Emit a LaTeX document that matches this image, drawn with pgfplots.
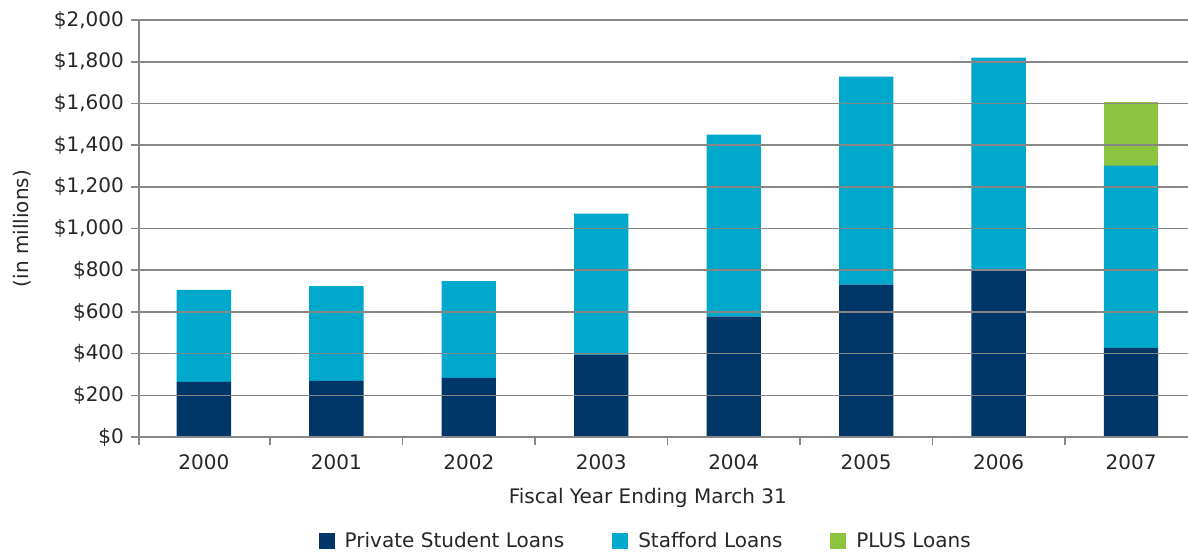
\documentclass[border=0pt]{standalone}
\usepackage{fontspec}
\setmainfont{DejaVu Sans}
\usepackage{pgfplots}
\pgfplotsset{compat=1.18}
\definecolor{navy}{HTML}{003768}
\definecolor{cyanb}{HTML}{00A8CC}
\definecolor{greenb}{HTML}{8CC43F}
\definecolor{gridgray}{HTML}{878787}
\begin{document}
\begin{tikzpicture}
\begin{axis}[
  name=ax,
  scale only axis, width=524.5pt, height=208.5pt,
  xmin=-0.49, xmax=7.43, ymin=0, ymax=2000,
  ybar stacked, bar width=0.41,
  axis on top,
  axis x line*=bottom, axis y line*=left,
  x axis line style={-, draw=gridgray, line width=0.8pt},
  y axis line style={-, draw=gridgray, line width=0.8pt},
  ytick={0,200,...,2000},
  yticklabels={\$0,\$200,\$400,\$600,\$800,{\$1,000},{\$1,200},{\$1,400},{\$1,600},{\$1,800},{\$2,000}},
  ymajorgrids, grid style={draw=gridgray, line width=0.8pt},
  ytick style={draw=gridgray, line width=0.8pt},
  tick align=outside, major tick length=4pt,
  xtick={0,...,7},
  xticklabels={2000,2001,2002,2003,2004,2005,2006,2007},
  xtick style={draw=none},
  xticklabel style={anchor=center, yshift=-8.5pt},
  extra x ticks={-0.49,0.5,1.5,2.5,3.5,4.5,5.5,6.5},
  extra x tick labels={},
  extra x tick style={xtick style={draw=gridgray, line width=0.8pt}, major tick length=4pt, grid=none},
  /pgf/number format/assume math mode=true,
  tick label style={font=\fontsize{10pt}{12pt}\selectfont, text=black!85},
  xlabel={Fiscal Year Ending March 31},
  xlabel style={at={(axis description cs:0.485,-0.146)}, anchor=center, font=\fontsize{10pt}{12pt}\selectfont, text=black!85},
  ylabel={(in millions)},
  ylabel style={at={(axis description cs:-0.1115,0.5)}, anchor=center, rotate=0, font=\fontsize{10pt}{12pt}\selectfont, text=black!85},
  legend style={at={(axis description cs:0.484,-0.25)}, anchor=center, draw=none, fill=none,
    legend columns=3, font=\fontsize{10pt}{12pt}\selectfont, text=black!85,
    /tikz/every even column/.append style={column sep=22pt},
    /tikz/every odd column/.append style={column sep=3pt}},
  legend image code/.code={\draw[#1, draw=none] (0pt,-4pt) rectangle (8pt,4pt);},
]
\addplot[fill=navy, draw=none] coordinates {(0,265) (1,269) (2,283) (3,395) (4,577) (5,731) (6,802) (7,428)};
\addlegendentry{Private Student Loans}
\addplot[fill=cyanb, draw=none] coordinates {(0,441) (1,455) (2,465) (3,676) (4,873) (5,998) (6,1017) (7,873)};
\addlegendentry{Stafford Loans}
\addplot[fill=greenb, draw=none] coordinates {(0,0) (1,0) (2,0) (3,0) (4,0) (5,0) (6,0) (7,307)};
\addlegendentry{PLUS Loans}
\end{axis}
\pgfresetboundingbox
\path (ax.south west) ++(-69.5pt,-57.5pt) coordinate (bl);
\path (ax.north east) ++(0pt,10pt) coordinate (tr);
\useasboundingbox (bl) rectangle (tr);
\end{tikzpicture}
\end{document}
